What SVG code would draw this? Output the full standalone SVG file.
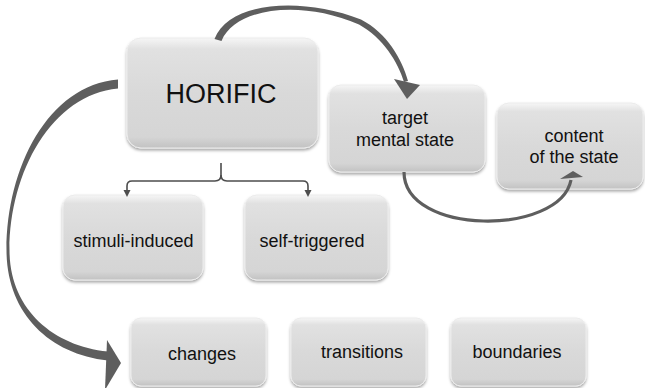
<svg xmlns="http://www.w3.org/2000/svg" width="645" height="388" viewBox="0 0 645 388">
  <defs>
    <linearGradient id="boxGrad" x1="0" y1="0" x2="0" y2="1">
      <stop offset="0" stop-color="#f6f6f6"/>
      <stop offset="0.1" stop-color="#e1e1e1"/>
      <stop offset="0.5" stop-color="#d9d9d9"/>
      <stop offset="0.9" stop-color="#d5d5d5"/>
      <stop offset="1" stop-color="#c2c2c2"/>
    </linearGradient>
    <filter id="shadow" x="-10%" y="-10%" width="120%" height="130%">
      <feDropShadow dx="0" dy="2" stdDeviation="1.6" flood-color="#000" flood-opacity="0.35"/>
    </filter>
    <style>
      .box { fill: url(#boxGrad); stroke: #ececec; stroke-width: 1; filter: url(#shadow); }
      .lbl { font-family: "Liberation Sans", Arial, sans-serif; font-size: 18px; fill: #111; text-anchor: middle; }
      .big { font-size: 27px; }
      .arrow { fill: #5e5e5e; }
      .thin { fill: none; stroke: #5e5e5e; stroke-width: 3.2; }
      .brace { fill: none; stroke: #4d4d4d; stroke-width: 1.6; }
      .braceHead { fill: #4d4d4d; }
    </style>
  </defs>
  <rect width="645" height="388" fill="#ffffff"/>

  <g id="horific">
    <rect class="box" x="127" y="38" width="191" height="110" rx="14"/>
    <text class="lbl big" x="221" y="103">HORIFIC</text>
  </g>
  <g id="target">
    <rect class="box" x="329" y="85" width="156" height="87" rx="12"/>
    <text class="lbl" x="405" y="124">target</text>
    <text class="lbl" x="405" y="145.5">mental state</text>
  </g>
  <g id="content">
    <rect class="box" x="497" y="103" width="146" height="86" rx="12"/>
    <text class="lbl" x="574" y="142">content</text>
    <text class="lbl" x="574" y="163">of the state</text>
  </g>
  <g id="stimuli">
    <rect class="box" x="63" y="195" width="140" height="85" rx="12"/>
    <text class="lbl" x="133.5" y="247">stimuli-induced</text>
  </g>
  <g id="self">
    <rect class="box" x="245" y="195" width="143" height="85" rx="12"/>
    <text class="lbl" x="312" y="247">self-triggered</text>
  </g>
  <g id="changes">
    <rect class="box" x="131" y="318" width="135" height="68" rx="10"/>
    <text class="lbl" x="202" y="360">changes</text>
  </g>
  <g id="transitions">
    <rect class="box" x="291" y="318" width="135" height="68" rx="10"/>
    <text class="lbl" x="362" y="358">transitions</text>
  </g>
  <g id="boundaries">
    <rect class="box" x="451" y="318" width="135" height="68" rx="10"/>
    <text class="lbl" x="517" y="358">boundaries</text>
  </g>

  <g id="connectors">
    <!-- left big curved arrow HORIFIC -> changes -->
    <path class="arrow" d="M118,79.5 C48,85 6.5,168 6.5,250 C6.5,312 48,354 108,360.5 L108,351.5 C52,346 9.5,308 9.5,250 C9.5,172 52,94.5 118,88.5 Z"/>
    <polygon class="arrow" points="107,340 121,363 105,390"/>
    <!-- top curved arrow HORIFIC -> target mental state -->
    <path class="arrow" d="M214.5,39 C229,2 300,-4 361,19.5 C387,33 402,59 408,81 L404,82 C398,62 383,38 359,24.5 C300,-1 235,8 221.5,41 Z"/>
    <polygon class="arrow" points="394,79 420,85 407,99"/>
    <!-- bottom curved arrow target -> content -->
    <path class="thin" d="M404,172 C404,236 560,236 571,180"/>
    <polygon class="arrow" points="560,179 573,171 583,177"/>
    <!-- brace connector -->
    <path class="brace" d="M221,163 L221,175 Q221,181 215,181 L132,181 Q127,181 127,186 L127,192"/>
    <path class="brace" d="M221,175 Q221,181 227,181 L303,181 Q308,181 308,186 L308,192"/>
    <polygon class="braceHead" points="123.5,190 130.5,190 127,197"/>
    <polygon class="braceHead" points="304.5,190 311.5,190 308,197"/>
  </g>
</svg>
